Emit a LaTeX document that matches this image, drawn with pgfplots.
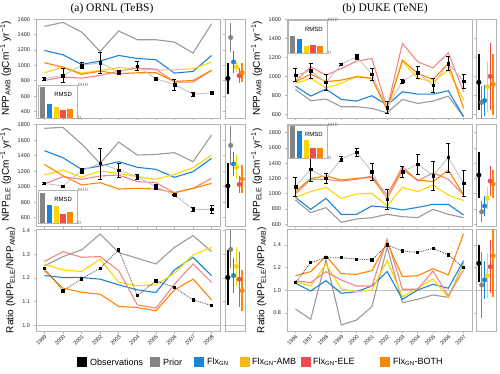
\documentclass[border=0pt]{standalone}
\usepackage{fontspec}
\setmainfont{Liberation Sans}
\newfontfamily\titlefont{Liberation Serif}
\usepackage{pgfplots}
\pgfplotsset{compat=1.18}

\definecolor{cPrior}{HTML}{9A9A9A}
\definecolor{cPriorD}{HTML}{858585}
\definecolor{cGN}{HTML}{1A85D6}
\definecolor{cAMB}{HTML}{FFD500}
\definecolor{cAMBleg}{HTML}{F7B818}
\definecolor{cELE}{HTML}{F58585}
\definecolor{cELEd}{HTML}{F04B50}
\definecolor{cBOTH}{HTML}{FF8600}
\definecolor{cFrame}{HTML}{B4B4B4}
\definecolor{cObsLine}{HTML}{C4C4C4}

\pgfplotsset{
  base/.style={scale only axis, anchor=north west,
    axis line style={cFrame, line width=0.8pt},
    tick align=outside, tick pos=left, major tick length=2.5pt,
    tick style={cFrame, line width=0.6pt},
    tick label style={font=\fontsize{5.5}{6}\selectfont, text=black!85},
    /pgf/number format/1000 sep={},
    /pgf/number format/assume math mode=true,
    label style={font=\fontsize{10}{11}\selectfont}},
  mainL/.style={base, width=184pt, xmin=1998.55, xmax=2008.45, xtick={1999,...,2008}},
  mainR/.style={base, width=185pt, xmin=1995.45, xmax=2007.55, xtick={1996,...,2007}},
  side/.style={base, width=20pt, xmin=-1, xmax=6, xtick=\empty, yticklabels={}},
  r1/.style={height=99pt, xticklabels={}},
  r2/.style={height=102pt, xticklabels={}},
  r3/.style={height=102pt, xticklabel style={rotate=45, anchor=north east, inner sep=0.5pt},
    yticklabel style={/pgf/number format/.cd, fixed, fixed zerofill, precision=1}},
  prior/.style={cPrior, line width=1.1pt},
  gn/.style={cGN, line width=1.1pt},
  amb/.style={cAMB, line width=1.1pt},
  ele/.style={cELE, line width=1.1pt},
  both/.style={cBOTH, line width=1.1pt},
  obsline/.style={cObsLine, line width=0.9pt},
  obs/.style={only marks, mark=square*, mark size=1.3pt, black,
    error bars/.cd, y dir=both, y explicit,
    error bar style={line width=0.7pt, black},
    error mark options={rotate=90, mark size=2pt, line width=0.6pt, black}},
  sp/.style={#1, mark=*, mark size=2.3pt, mark options={draw=#1, fill=#1},
    error bars/.cd, y dir=both, y explicit,
    error bar style={line width=1.4pt, #1}, error mark=none},
  inset/.style={scale only axis, anchor=north west, width=39pt, height=33pt,
    xmin=-0.65, xmax=5, ymin=0, ymax=600, xtick=\empty, ytick={0,600},
    yticklabel pos=right, tick style={draw=none},
    yticklabel style={font=\fontsize{3.5}{4}\selectfont, text=black!70, inner sep=0.5pt},
    axis line style={cFrame, line width=0.6pt},
    axis background/.style={fill=white}},
  bar/.style={ybar, bar width=5.5pt, fill=#1, draw=none},
}

\begin{document}
\begin{tikzpicture}
\useasboundingbox (0pt,0pt) rectangle (500pt,-374pt);

\node[font=\titlefont\fontsize{11.5}{13}\selectfont] at (112pt,-9pt) {(a) ORNL (TeBS)};
\node[font=\titlefont\fontsize{11.5}{13}\selectfont] at (385pt,-9pt) {(b) DUKE (TeNE)};

% ---------------- (a) row 1 ----------------
\begin{axis}[mainL, r1, at={(36pt,-19pt)}, ymin=315, ymax=1605, ytick={400,600,...,1600},
  ylabel={NPP\textsubscript{AMB} (gCm\textsuperscript{−1} yr\textsuperscript{−1})}]
\addplot[prior] coordinates {(1999,1509) (2000,1561) (2001,1435) (2002,1183) (2003,1448) (2004,1335) (2005,1335) (2006,1304) (2007,1161) (2008,1543)};
\addplot[gn] coordinates {(1999,1196) (2000,1139) (2001,1013) (2002,1057) (2003,1130) (2004,1091) (2005,1074) (2006,900) (2007,922) (2008,1130)};
\addplot[amb] coordinates {(1999,904) (2000,978) (2001,900) (2002,935) (2003,970) (2004,957) (2005,943) (2006,943) (2007,957) (2008,1043)};
\addplot[ele] coordinates {(1999,804) (2000,848) (2001,835) (2002,870) (2003,926) (2004,965) (2005,952) (2006,783) (2007,783) (2008,935)};
\addplot[both] coordinates {(1999,1035) (2000,978) (2001,883) (2002,926) (2003,891) (2004,904) (2005,904) (2006,791) (2007,804) (2008,935)};
\addplot[obsline] coordinates {(1999,826) (2000,870) (2001,1000) (2002,1035) (2003,913) (2004,991) (2005,826) (2006,752) (2007,626) (2008,643)};
\addplot[obs] coordinates {(1999,826) +- (0,20) (2000,870) +- (0,87) (2001,1000) +- (0,40) (2002,1035) +- (0,135) (2003,913) +- (0,30) (2004,991) +- (0,60) (2005,826) +- (0,20) (2006,752) +- (0,70) (2007,626) +- (0,30) (2008,643) +- (0,10)};
\end{axis}
\begin{axis}[side, height=99pt, at={(225pt,-19pt)}, ymin=315, ymax=1605, ytick={400,600,...,1600}]
\addplot[sp=black] coordinates {(0,830) +- (0,200)};
\addplot[sp=cPriorD] coordinates {(1,1363) +- (0,189)};
\addplot[sp=cGN] coordinates {(2,1045) +- (0,148)};
\addplot[sp=cAMB] coordinates {(3,978) +- (0,65)};
\addplot[sp=cELEd] coordinates {(4,866) +- (0,94)};
\addplot[sp=cBOTH] coordinates {(5,905) +- (0,124)};
\end{axis}
\begin{axis}[inset, at={(38pt,-85pt)}]
\addplot[bar=cPriorD] coordinates {(0,562)};
\addplot[bar=cGN] coordinates {(1,256)};
\addplot[bar=cAMB] coordinates {(2,194)};
\addplot[bar=cELEd] coordinates {(3,150)};
\addplot[bar=cBOTH] coordinates {(4,156)};
\node[font=\fontsize{6}{7}\selectfont] at (axis cs:3,430) {RMSD};
\end{axis}

% ---------------- (a) row 2 ----------------
\begin{axis}[mainL, r2, at={(36pt,-124pt)}, ymin=493, ymax=1809, ytick={600,800,...,1800},
  ylabel={NPP\textsubscript{ELE} (gCm\textsuperscript{−1} yr\textsuperscript{−1})}]
\addplot[prior] coordinates {(1999,1753) (2000,1766) (2001,1551) (2002,1301) (2003,1576) (2004,1409) (2005,1417) (2006,1439) (2007,1323) (2008,1667)};
\addplot[gn] coordinates {(1999,1465) (2000,1374) (2001,1224) (2002,1267) (2003,1323) (2004,1250) (2005,1224) (2006,1121) (2007,1194) (2008,1366)};
\addplot[amb] coordinates {(1999,1151) (2000,1215) (2001,1121) (2002,1202) (2003,1172) (2004,1129) (2005,1095) (2006,1159) (2007,1245) (2008,1409)};
\addplot[ele] coordinates {(1999,1035) (2000,1129) (2001,1095) (2002,1138) (2003,1151) (2004,1065) (2005,1052) (2006,923) (2007,979) (2008,1108)};
\addplot[both] coordinates {(1999,1288) (2000,1142) (2001,1022) (2002,1052) (2003,970) (2004,979) (2005,970) (2006,923) (2007,979) (2008,1043)};
\addplot[obsline] coordinates {(1999,1043) (2000,1009) (2001,1207) (2002,1301) (2003,1215) (2004,1129) (2005,1000) (2006,893) (2007,708) (2008,708)};
\addplot[obs] coordinates {(1999,1043) +- (0,8) (2000,1009) +- (0,15) (2001,1207) +- (0,30) (2002,1301) +- (0,200) (2003,1215) +- (0,90) (2004,1129) +- (0,30) (2005,1000) +- (0,30) (2006,893) +- (0,8) (2007,708) +- (0,30) (2008,708) +- (0,50)};
\end{axis}
\begin{axis}[side, height=102pt, at={(225pt,-124pt)}, ymin=493, ymax=1809, ytick={600,800,...,1800}]
\addplot[sp=black] coordinates {(0,1010) +- (0,290)};
\addplot[sp=cPriorD] coordinates {(1,1533) +- (0,250)};
\addplot[sp=cGN] coordinates {(2,1293) +- (0,160)};
\addplot[sp=cAMB] coordinates {(3,1254) +- (0,160)};
\addplot[sp=cELEd] coordinates {(4,1030) +- (0,107)};
\addplot[sp=cBOTH] coordinates {(5,1099) +- (0,180)};
\end{axis}
\begin{axis}[inset, at={(38pt,-190pt)}]
\addplot[bar=cPriorD] coordinates {(0,551)};
\addplot[bar=cGN] coordinates {(1,331)};
\addplot[bar=cAMB] coordinates {(2,306)};
\addplot[bar=cELEd] coordinates {(3,165)};
\addplot[bar=cBOTH] coordinates {(4,208)};
\node[font=\fontsize{6}{7}\selectfont] at (axis cs:3,420) {RMSD};
\end{axis}

% ---------------- (a) row 3 ----------------
\begin{axis}[mainL, r3, at={(36pt,-229pt)}, ymin=0.977, ymax=1.406, ytick={1.0,1.1,1.2,1.3,1.4},
  ylabel={Ratio (NPP\textsubscript{ELE}/NPP\textsubscript{AMB})}]
\addplot[black!25, line width=0.5pt] coordinates {(1998,1) (2009,1)};
\addplot[prior] coordinates {(1999,1.251) (2000,1.29) (2001,1.318) (2002,1.385) (2003,1.307) (2004,1.283) (2005,1.259) (2006,1.329) (2007,1.378) (2008,1.311)};
\addplot[gn] coordinates {(1999,1.21) (2000,1.202) (2001,1.202) (2002,1.195) (2003,1.171) (2004,1.15) (2005,1.139) (2006,1.234) (2007,1.287) (2008,1.209)};
\addplot[amb] coordinates {(1999,1.258) (2000,1.234) (2001,1.227) (2002,1.279) (2003,1.182) (2004,1.167) (2005,1.171) (2006,1.22) (2007,1.297) (2008,1.329)};
\addplot[ele] coordinates {(1999,1.269) (2000,1.311) (2001,1.287) (2002,1.29) (2003,1.231) (2004,1.087) (2005,1.073) (2006,1.174) (2007,1.259) (2008,1.181)};
\addplot[both] coordinates {(1999,1.231) (2000,1.157) (2001,1.14) (2002,1.132) (2003,1.08) (2004,1.076) (2005,1.062) (2006,1.15) (2007,1.195) (2008,1.108)};
\addplot[black!75, densely dotted, line width=0.8pt, mark=square*, mark size=1.1pt, mark options={solid, black}] coordinates {(1999,1.241) (2000,1.146) (2001,1.196) (2002,1.241) (2003,1.318) (2004,1.126) (2005,1.188) (2006,1.161) (2007,1.108) (2008,1.084)};
\end{axis}
\begin{axis}[side, height=102pt, at={(225pt,-229pt)}, ymin=0.977, ymax=1.406, ytick={1.0,1.1,1.2,1.3,1.4}]
\addplot[black!25, line width=0.5pt] coordinates {(-2,1) (7,1)};
\addplot[sp=black] coordinates {(0,1.202) +- (0,0.115)};
\addplot[sp=cPriorD] coordinates {(1,1.32) +- (0,0.08)};
\addplot[sp=cGN] coordinates {(2,1.21) +- (0,0.075)};
\addplot[sp=cAMB] coordinates {(3,1.248) +- (0,0.083)};
\addplot[sp=cELEd] coordinates {(4,1.195) +- (0,0.115)};
\addplot[sp=cBOTH] coordinates {(5,1.147) +- (0,0.086)};
\end{axis}

% ---------------- (b) row 1 ----------------
\begin{axis}[mainR, r1, at={(287pt,-19pt)}, ymin=562, ymax=1602, ytick={600,800,...,1600},
  ylabel={NPP\textsubscript{AMB} (gCm\textsuperscript{−1} yr\textsuperscript{−1})}]
\addplot[prior] coordinates {(1996,862) (1997,743) (1998,761) (1999,680) (2000,680) (2001,663) (2002,617) (2003,757) (2004,715) (2005,740) (2006,792) (2007,575)};
\addplot[gn] coordinates {(1996,897) (1997,792) (1998,866) (1999,757) (2000,740) (2001,796) (2002,698) (2003,838) (2004,813) (2005,813) (2006,848) (2007,575)};
\addplot[amb] coordinates {(1996,925) (1997,978) (1998,880) (1999,925) (2000,1002) (2001,978) (2002,645) (2003,1159) (2004,978) (2005,943) (2006,1065) (2007,750)};
\addplot[ele] coordinates {(1996,950) (1997,1100) (1998,1012) (1999,1082) (2000,1159) (2001,1187) (2002,663) (2003,1345) (2004,1152) (2005,1089) (2006,1247) (2007,838)};
\addplot[both] coordinates {(1996,943) (1997,1023) (1998,943) (1999,960) (2000,995) (2001,978) (2002,652) (2003,1170) (2004,1030) (2005,967) (2006,1135) (2007,663)};
\addplot[obsline] coordinates {(1996,1013) (1997,1058) (1998,936) (1999,1128) (2000,1205) (2001,1023) (2002,673) (2003,950) (2004,1040) (2005,908) (2006,1135) (2007,950)};
\addplot[obs] coordinates {(1996,1013) +- (0,70) (1997,1058) +- (0,75) (1998,936) +- (0,85) (1999,1128) +- (0,10) (2000,1205) +- (0,25) (2001,1023) +- (0,60) (2002,673) +- (0,60) (2003,950) +- (0,20) (2004,1040) +- (0,60) (2005,908) +- (0,75) (2006,1135) +- (0,70) (2007,950) +- (0,75)};
\end{axis}
\begin{axis}[side, height=99pt, at={(476pt,-19pt)}, ymin=562, ymax=1602, ytick={600,800,...,1600}]
\addplot[sp=black] coordinates {(0,936) +- (0,294)};
\addplot[sp=cPriorD] coordinates {(1,726) +- (0,170)};
\addplot[sp=cGN] coordinates {(2,745) +- (0,166)};
\addplot[sp=cAMB] coordinates {(3,890) +- (0,263)};
\addplot[sp=cELEd] coordinates {(4,1000) +- (0,350)};
\addplot[sp=cBOTH] coordinates {(5,915) +- (0,320)};
\end{axis}
\begin{axis}[inset, at={(288pt,-20pt)}]
\addplot[bar=cPriorD] coordinates {(0,300)};
\addplot[bar=cGN] coordinates {(1,246)};
\addplot[bar=cAMB] coordinates {(2,120)};
\addplot[bar=cELEd] coordinates {(3,150)};
\addplot[bar=cBOTH] coordinates {(4,126)};
\node[font=\fontsize{6}{7}\selectfont] at (axis cs:3.1,430) {RMSD};
\end{axis}

% ---------------- (b) row 2 ----------------
\begin{axis}[mainR, r2, at={(287pt,-124pt)}, ymin=578, ymax=1914, ytick={600,800,...,1800},
  ylabel={NPP\textsubscript{ELE} (gCm\textsuperscript{−1} yr\textsuperscript{−1})}]
\addplot[prior] coordinates {(1996,918) (1997,753) (1998,818) (1999,626) (2000,670) (2001,687) (2002,731) (2003,700) (2004,687) (2005,796) (2006,731) (2007,687)};
\addplot[gn] coordinates {(1996,953) (1997,796) (1998,940) (1999,731) (2000,731) (2001,840) (2002,822) (2003,788) (2004,822) (2005,862) (2006,862) (2007,722)};
\addplot[amb] coordinates {(1996,953) (1997,1028) (1998,1084) (1999,940) (2000,997) (2001,1006) (2002,840) (2003,1084) (2004,1028) (2005,1115) (2006,984) (2007,910)};
\addplot[ele] coordinates {(1996,997) (1997,1189) (1998,1189) (1999,1167) (2000,1189) (2001,1233) (2002,984) (2003,1355) (2004,1167) (2005,1276) (2006,1189) (2007,984)};
\addplot[both] coordinates {(1996,1028) (1997,1202) (1998,1233) (1999,1180) (2000,1202) (2001,1215) (2002,940) (2003,1320) (2004,1180) (2005,1158) (2006,1311) (2007,984)};
\addplot[obsline] coordinates {(1996,1093) (1997,1320) (1998,1202) (1999,1455) (2000,1543) (2001,1289) (2002,927) (2003,1289) (2004,1390) (2005,1237) (2006,1477) (2007,1137)};
\addplot[obs] coordinates {(1996,1093) +- (0,120) (1997,1320) +- (0,160) (1998,1202) +- (0,70) (1999,1455) +- (0,35) (2000,1543) +- (0,55) (2001,1289) +- (0,110) (2002,927) +- (0,135) (2003,1289) +- (0,75) (2004,1390) +- (0,130) (2005,1237) +- (0,185) (2006,1477) +- (0,190) (2007,1137) +- (0,175)};
\end{axis}
\begin{axis}[side, height=102pt, at={(476pt,-124pt)}, ymin=578, ymax=1914, ytick={600,800,...,1800}]
\addplot[sp=black] coordinates {(0,1246) +- (0,305)};
\addplot[sp=cPriorD] coordinates {(1,765) +- (0,140)};
\addplot[sp=cGN] coordinates {(2,840) +- (0,130)};
\addplot[sp=cAMB] coordinates {(3,941) +- (0,146)};
\addplot[sp=cELEd] coordinates {(4,1167) +- (0,196)};
\addplot[sp=cBOTH] coordinates {(5,1128) +- (0,185)};
\end{axis}
\begin{axis}[inset, at={(288pt,-125pt)}]
\addplot[bar=cPriorD] coordinates {(0,580)};
\addplot[bar=cGN] coordinates {(1,490)};
\addplot[bar=cAMB] coordinates {(2,320)};
\addplot[bar=cELEd] coordinates {(3,186)};
\addplot[bar=cBOTH] coordinates {(4,186)};
\node[font=\fontsize{6}{7}\selectfont] at (axis cs:3.1,420) {RMSD};
\end{axis}

% ---------------- (b) row 3 ----------------
\begin{axis}[mainR, r3, at={(287pt,-229pt)}, ymin=0.641, ymax=1.541, ytick={0.8,1.0,1.2,1.4},
  ylabel={Ratio (NPP\textsubscript{ELE}/NPP\textsubscript{AMB})}]
\addplot[black!25, line width=0.5pt] coordinates {(1995,1) (2008,1)};
\addplot[prior] coordinates {(1996,0.835) (1997,0.744) (1998,1.27) (1999,0.694) (2000,0.738) (2001,0.856) (2002,1.38) (2003,0.891) (2004,0.921) (2005,0.959) (2006,0.938) (2007,1.24)};
\addplot[gn] coordinates {(1996,1.062) (1997,0.994) (1998,1.085) (1999,0.974) (2000,0.988) (2001,1.038) (2002,1.165) (2003,0.921) (2004,1.003) (2005,1.053) (2006,1.018) (2007,1.262)};
\addplot[amb] coordinates {(1996,1.076) (1997,1.038) (1998,1.232) (1999,1.012) (2000,0.988) (2001,1.003) (2002,1.262) (2003,0.944) (2004,1.018) (2005,1.1) (2006,0.935) (2007,1.232)};
\addplot[ele] coordinates {(1996,1.085) (1997,1.068) (1998,1.165) (1999,1.091) (2000,1.038) (2001,1.038) (2002,1.45) (2003,1.009) (2004,1.009) (2005,1.171) (2006,0.95) (2007,1.18)};
\addplot[both] coordinates {(1996,1.129) (1997,1.165) (1998,1.303) (1999,1.147) (2000,1.141) (2001,1.174) (2002,1.42) (2003,1.121) (2004,1.129) (2005,1.191) (2006,1.135) (2007,1.5)};
\addplot[black!75, densely dotted, line width=0.8pt, mark=square*, mark size=1.1pt, mark options={solid, black}] coordinates {(1996,1.068) (1997,1.244) (1998,1.288) (1999,1.288) (2000,1.276) (2001,1.268) (2002,1.4) (2003,1.347) (2004,1.335) (2005,1.37) (2006,1.312) (2007,1.2)};
\end{axis}
\begin{axis}[side, height=102pt, at={(476pt,-229pt)}, ymin=0.641, ymax=1.541, ytick={0.8,1.0,1.2,1.4}]
\addplot[black!25, line width=0.5pt] coordinates {(-2,1) (7,1)};
\addplot[sp=black] coordinates {(0,1.238) +- (0,0.162)};
\addplot[sp=cPriorD] coordinates {(1,1.047) +- (0,0.29)};
\addplot[sp=cGN] coordinates {(2,1.091) +- (0,0.17)};
\addplot[sp=cAMB] coordinates {(3,1.129) +- (0,0.2)};
\addplot[sp=cELEd] coordinates {(4,1.208) +- (0,0.235)};
\addplot[sp=cBOTH] coordinates {(5,1.305) +- (0,0.36)};
\end{axis}

% ---------------- legend ----------------
\begin{scope}[every node/.style={anchor=west, inner sep=0pt, font=\fontsize{9}{10}\selectfont}]
\fill[black] (77pt,-357pt) rectangle ++(10pt,-9.5pt);
\node at (90pt,-362pt) {Observations};
\fill[cPriorD] (150pt,-357pt) rectangle ++(10pt,-9.5pt);
\node at (163pt,-362pt) {Prior};
\fill[cGN] (194pt,-357pt) rectangle ++(10pt,-9.5pt);
\node at (207pt,-362pt) {Flx\textsubscript{GN}};
\fill[cAMBleg] (240pt,-357pt) rectangle ++(10pt,-9.5pt);
\node at (252pt,-362pt) {Flx\textsubscript{GN}-AMB};
\fill[cELEd] (301pt,-357pt) rectangle ++(10pt,-9.5pt);
\node at (313pt,-362pt) {Flx\textsubscript{GN}-ELE};
\fill[cBOTH] (380pt,-357pt) rectangle ++(10pt,-9.5pt);
\node at (393pt,-362pt) {Flx\textsubscript{GN}-BOTH};
\end{scope}
\end{tikzpicture}
\end{document}
